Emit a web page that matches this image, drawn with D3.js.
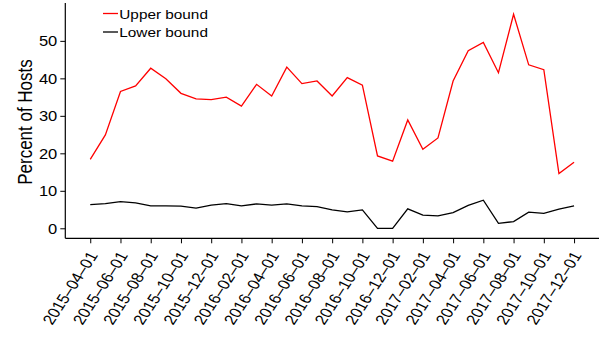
<!DOCTYPE html>
<html>
<head>
<meta charset="utf-8">
<script src="https://cdn.jsdelivr.net/npm/d3@7"></script>
<style>
  html, body { margin: 0; padding: 0; background: #fff; }
  svg { display: block; font-family: "Liberation Sans", Arial, sans-serif; }
</style>
</head>
<body>
<svg id="chart" width="612" height="337"></svg>
<script>
// Monthly series, 2015-04 through 2017-12
const upperBound = [18.4, 24.9, 36.5, 38.0, 42.7, 39.9, 36.0, 34.5, 34.3, 35.0,
  32.6, 38.4, 35.3, 43.0, 38.6, 39.3, 35.3, 40.2, 38.2, 19.3,
  17.9, 28.9, 21.1, 24.1, 39.3, 47.4, 49.6, 41.5, 57.1, 43.6,
  42.3, 14.6, 17.6];
const lowerBound = [6.3, 6.6, 7.1, 6.8, 6.0, 6.0, 5.9, 5.4, 6.2, 6.6,
  6.0, 6.5, 6.2, 6.5, 6.0, 5.8, 4.9, 4.4, 4.9, 0.0,
  0.0, 5.2, 3.5, 3.3, 4.2, 6.1, 7.5, 1.3, 1.8, 4.3,
  4.0, 5.1, 6.0];
const yTicks = [0, 10, 20, 30, 40, 50];
const xTickLabels = ["2015–04–01", "2015–06–01", "2015–08–01", "2015–10–01", "2015–12–01",
  "2016–02–01", "2016–04–01", "2016–06–01", "2016–08–01", "2016–10–01", "2016–12–01",
  "2017–02–01", "2017–04–01", "2017–06–01", "2017–08–01", "2017–10–01", "2017–12–01"];
const seriesNames = ["Upper bound", "Lower bound"];
const seriesColors = ["#ff0000", "#000000"];

const svg = d3.select("#chart");
const plotLeft = 65.3, plotRight = 599, plotTop = 3, plotBottom = 238.3;
const widen = 1.18; // glyphs are drawn a little wider than tall

// month index -> x, with a margin on both sides
const x = d3.scaleLinear().domain([-1.65, 33.65]).range([plotLeft, plotRight]);
const y = d3.scaleLinear().domain([-2.67, 60.1]).range([plotBottom, plotTop]);

// y axis
const yAxis = svg.append("g").attr("transform", `translate(${plotLeft},0)`)
  .call(d3.axisLeft(y).tickValues(yTicks).tickSize(5).tickSizeOuter(0));
yAxis.select(".domain").attr("stroke", "#000").attr("stroke-width", 1.2)
  .attr("d", `M0,${plotTop}V${plotBottom}`);
yAxis.selectAll(".tick line").attr("stroke", "#000").attr("stroke-width", 1);
yAxis.selectAll(".tick text")
  .attr("font-size", 14).attr("fill", "#000")
  .attr("font-family", "Liberation Sans, Arial, sans-serif")
  .attr("x", 0).attr("dy", "0.35em")
  .attr("transform", `translate(-8,0) scale(${widen},1)`);

// x axis: one tick every second month
const xTickIdx = xTickLabels.map((s, i) => i * 2);
const xAxis = svg.append("g").attr("transform", `translate(0,${plotBottom})`)
  .call(d3.axisBottom(x).tickValues(xTickIdx).tickSize(5).tickSizeOuter(0)
    .tickFormat((d, i) => xTickLabels[i]));
xAxis.select(".domain").attr("stroke", "#000").attr("stroke-width", 1.2)
  .attr("d", `M${plotLeft},0H${plotRight}`);
xAxis.selectAll(".tick line").attr("stroke", "#000").attr("stroke-width", 1);
xAxis.selectAll(".tick text")
  .attr("font-size", 14.5).attr("fill", "#000")
  .attr("font-family", "Liberation Sans, Arial, sans-serif")
  .attr("text-anchor", "end")
  .attr("dy", 0).attr("y", 0)
  .attr("transform", `translate(7.5,17) scale(${widen},1) rotate(-61)`);

// y axis title
svg.append("text")
  .attr("transform", `translate(31.7,122) scale(${widen},1) rotate(-90)`)
  .attr("text-anchor", "middle")
  .attr("font-size", 17)
  .attr("fill", "#000")
  .text("Percent of Hosts");

// series lines
const line = d3.line().x((d, i) => x(i)).y(d => y(d));
[upperBound, lowerBound].forEach((vals, k) => {
  svg.append("path").datum(vals)
    .attr("fill", "none")
    .attr("stroke", seriesColors[k])
    .attr("stroke-width", 1.3)
    .attr("stroke-linejoin", "miter")
    .attr("d", line);
});

// legend
const legend = svg.append("g");
seriesNames.forEach((name, k) => {
  const ly = 13.5 + k * 18.5;
  legend.append("line").attr("x1", 103).attr("x2", 118).attr("y1", ly).attr("y2", ly)
    .attr("stroke", seriesColors[k]).attr("stroke-width", 1.3);
  legend.append("text")
    .attr("transform", `translate(119.3,${ly + 5}) scale(${widen},1)`)
    .attr("font-size", 13).attr("fill", "#000").text(name);
});
</script>
</body>
</html>
